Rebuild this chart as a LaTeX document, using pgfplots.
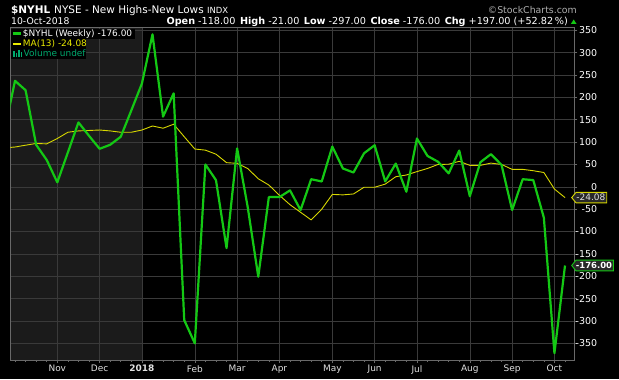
\documentclass[border=0pt]{standalone}
\usepackage{pgfplots}
\pgfplotsset{compat=1.18}
\usepackage{fontspec}
\setmainfont{DejaVu Sans}
\definecolor{nyhlgreen}{RGB}{20,200,20}
\definecolor{mayellow}{RGB}{215,215,0}
\definecolor{legyellow}{RGB}{235,235,0}
\definecolor{volteal}{RGB}{0,170,110}
\definecolor{gridgray}{RGB}{58,58,58}
\definecolor{framegray}{RGB}{105,105,105}
\definecolor{shadegray}{RGB}{27,27,27}
\definecolor{labelgray}{RGB}{225,225,225}
\definecolor{copygray}{RGB}{175,175,175}
\definecolor{taggray}{RGB}{40,40,40}
\begin{document}
\begin{tikzpicture}[x=1bp,y=1bp]
\fill[black] (0,0) rectangle (619,379);
\fill[shadegray] (10.5,19) rectangle (141.9,351.3);
\begin{axis}[
  at={(10.5bp,19bp)}, anchor=south west,
  scale only axis, width=563.8bp, height=332.3bp,
  xmin=-0.425, xmax=52.88, ymin=-387.3, ymax=355.8,
  clip mode=individual,
  axis line style={framegray, line width=0.8bp},
  xtick={4,8,12,17,21,25,30,34,38,43,47,51},
  xticklabels={Nov,Dec,\textbf{2018},Feb,Mar,Apr,May,Jun,Jul,Aug,Sep,Oct},
  minor xtick={0,...,52},
  ytick={-350,-300,...,350},
  yticklabels={-350,-300,-250,-200,-150,-100,-50,0,50,100,150,200,250,300,350},
  grid=major,
  major grid style={gridgray, line width=0.6bp},
  xtick pos=left, ytick pos=right, yticklabel pos=right,
  tick align=outside,
  major tick length=3bp, minor tick length=2bp,
  tick style={framegray, line width=0.6bp},
  xticklabel style={font=\fontsize{9}{10}\selectfont, text=labelgray, inner sep=0pt, anchor=north, yshift=-2bp},
  yticklabel style={font=\fontsize{9.5}{10}\selectfont, text=white, inner sep=0pt, anchor=east, xshift=20bp},
]
\addplot[mayellow, line width=0.9bp] coordinates {
(-1,87)(0,89)(1,93)(2,97)(3,96)(4,108)(5,122)(6,125)(7,126)(8,127)(9,125)(10,122)(11,122)(12,127)(13,136)(14,131)(15,140)(16,112)(17,84.5)(18,82)(19,73)(20,54)(21,52.5)(22,41)(23,18)(24,4)(25,-19)(26,-40)(27,-57)(28,-74)(29,-50)(30,-17)(31,-18)(32,-16)(33,-1)(34,-1)(35,6)(36,22.6)(37,26.4)(38,34)(39,41)(40,50)(41,50.5)(42,57)(43,48)(44,48)(45,53)(46,50)(47,39)(48,39)(49,36)(50,32)(51,-5)(52,-24.08)
};
\addplot[nyhlgreen, line width=2.2bp, line join=round] coordinates {
(-1,124)(0,237)(1,216)(2,94)(3,60)(4,10)(5,77)(6,144)(7,114)(8,85)(9,94)(10,112)(11,171)(12,231)(13,341)(14,157)(15,209)(16,-298)(17,-350)(18,50)(19,15)(20,-137)(21,86)(22,-45)(23,-201)(24,-23)(25,-23)(26,-8)(27,-52)(28,17)(29,12)(30,90)(31,41)(32,32)(33,75)(34,93)(35,12)(36,52)(37,-11)(38,108)(39,69)(40,56)(41,30)(42,81)(43,-21)(44,55)(45,73)(46,49)(47,-52)(48,17)(49,15)(50,-69)(51,-372)(52,-176)
};
\end{axis}
% header
\node[anchor=base west, inner sep=0, text=white, font=\fontsize{10.5}{12}\selectfont] at (11,366) {\textbf{\$NYHL}\hspace{4bp}NYSE - New Highs-New Lows {\fontsize{8.5}{10}\selectfont INDX}};
\node[anchor=base east, inner sep=0, text=copygray, font=\fontsize{9.4}{11}\selectfont] at (577,366) {©StockCharts.com};
\node[anchor=base west, inner sep=0, text=white, font=\fontsize{9.3}{11}\selectfont] at (11,354.5) {10-Oct-2018};
\node[anchor=base east, inner sep=0, text=white, font=\fontsize{9.7}{11}\selectfont] at (568,354.3) {\textbf{Open} -118.00\hspace{4.5bp}\textbf{High} -21.00\hspace{4.5bp}\textbf{Low} -297.00\hspace{4.5bp}\textbf{Close} -176.00\hspace{4.5bp}\textbf{Chg} +197.00 (+52.82\,\%)};
\fill[nyhlgreen] (570.8,355) -- (576.6,355) -- (573.7,359.5) -- cycle;
% legend
\fill[black] (11,340.5) rectangle (135,350.5);
\fill[black] (11,330.5) rectangle (86,340.5);
\fill[black] (11,320.5) rectangle (86,330.5);
\draw[nyhlgreen, line width=2.4bp] (13.3,345.5) -- (20.7,345.5);
\draw[legyellow, line width=2bp] (13.3,335.5) -- (20.7,335.5);
\fill[volteal] (13,322) rectangle (14.6,328.5);
\fill[volteal] (15.6,322) rectangle (17.2,326.5);
\fill[volteal] (18.2,322) rectangle (19.8,329);
\fill[volteal] (20.8,322) rectangle (22.2,327);
\node[anchor=base west, inner sep=0, text=white, font=\fontsize{9}{10}\selectfont] at (22.7,342.2) {\$NYHL (Weekly) -176.00};
\node[anchor=base west, inner sep=0, text=legyellow, font=\fontsize{9}{10}\selectfont] at (22.7,332.2) {MA(13) -24.08};
\node[anchor=base west, inner sep=0, text=volteal, font=\fontsize{9}{10}\selectfont] at (23.5,322.2) {Volume undef};
% value tags
\draw[mayellow, fill=taggray, line width=0.9bp] (571.7,181.4) -- (576,186.6) -- (606.7,186.6) -- (606.7,176.2) -- (576,176.2) -- cycle;
\node[anchor=base east, inner sep=0, text=labelgray, font=\fontsize{9}{10}\selectfont] at (605.5,178.1) {-24.08};
\draw[nyhlgreen, fill=taggray, line width=0.9bp] (571.7,113.5) -- (576,118.9) -- (613.3,118.9) -- (613.3,108.1) -- (576,108.1) -- cycle;
\node[anchor=base east, inner sep=0, text=white, font=\bfseries\fontsize{8.5}{10}\selectfont] at (612.3,110.3) {-176.00};
\pgfresetboundingbox
\path (0,0) rectangle (619,379);
\end{tikzpicture}
\end{document}
